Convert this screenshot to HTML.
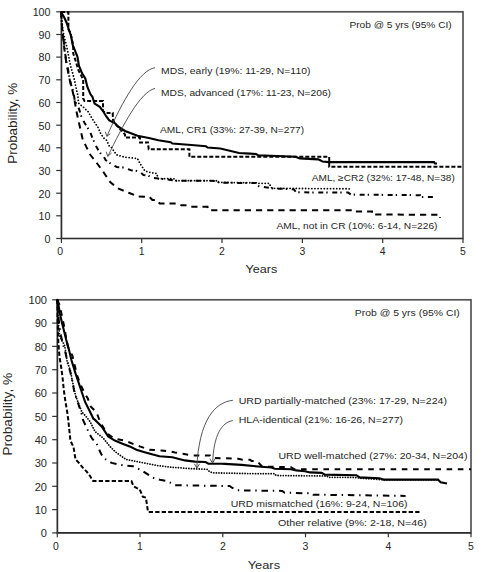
<!DOCTYPE html>
<html><head><meta charset="utf-8"><title>Survival curves</title>
<style>
html,body{margin:0;padding:0;background:#fff;}
body{width:483px;height:572px;overflow:hidden;}
svg{display:block;}
text{font-family:"Liberation Sans", sans-serif;fill:#262626;}
.frame{fill:none;stroke:#555;stroke-width:1.7;}
.axis{stroke:#2e2e2e;}
.tick{stroke:#333;stroke-width:1.2;}
polyline{fill:none;stroke:#000;stroke-linejoin:miter;}
.sl{stroke-width:2.1;}
.ds{stroke-width:2;stroke-dasharray:4 2;}
.dl{stroke-width:2;stroke-dasharray:6.2 5;}
.dl2{stroke-width:2;stroke-dasharray:5.6 5.6;}
.ds2{stroke-width:2;stroke-dasharray:4.3 2.2;}
.dd{stroke-width:2;stroke-dasharray:5 3 1.4 4.6;}
.dd2{stroke-width:2;stroke-dasharray:6.5 4.8 1.4 4.8;}
.dt{stroke-width:1.8;stroke-dasharray:0.01 3.1;stroke-linecap:round;}
.dt2{stroke-width:1.8;stroke-dasharray:0.01 2.6;stroke-linecap:round;}
.arr{fill:none;stroke:#444;stroke-width:0.9;}
</style></head>
<body>
<svg width="483" height="572" viewBox="0 0 483 572">
<rect width="483" height="572" fill="#fff"/>
<rect x="61.4" y="11.8" width="401.6" height="226.7" class="frame"/>
<line x1="61.5" y1="11.8" x2="61.5" y2="239.0" class="axis" stroke-width="1.2"/>
<line x1="60.9" y1="238.5" x2="463.0" y2="238.5" class="axis" stroke-width="1.1"/>
<line x1="56.2" y1="238.5" x2="61.5" y2="238.5" class="tick"/>
<text x="50.5" y="242.8" font-size="10" text-anchor="end" textLength="5.95" lengthAdjust="spacingAndGlyphs">0</text>
<line x1="56.2" y1="215.8" x2="61.5" y2="215.8" class="tick"/>
<text x="50.5" y="220.1" font-size="10" text-anchor="end" textLength="11.9" lengthAdjust="spacingAndGlyphs">10</text>
<line x1="56.2" y1="193.2" x2="61.5" y2="193.2" class="tick"/>
<text x="50.5" y="197.5" font-size="10" text-anchor="end" textLength="11.9" lengthAdjust="spacingAndGlyphs">20</text>
<line x1="56.2" y1="170.5" x2="61.5" y2="170.5" class="tick"/>
<text x="50.5" y="174.8" font-size="10" text-anchor="end" textLength="11.9" lengthAdjust="spacingAndGlyphs">30</text>
<line x1="56.2" y1="147.8" x2="61.5" y2="147.8" class="tick"/>
<text x="50.5" y="152.1" font-size="10" text-anchor="end" textLength="11.9" lengthAdjust="spacingAndGlyphs">40</text>
<line x1="56.2" y1="125.2" x2="61.5" y2="125.2" class="tick"/>
<text x="50.5" y="129.5" font-size="10" text-anchor="end" textLength="11.9" lengthAdjust="spacingAndGlyphs">50</text>
<line x1="56.2" y1="102.5" x2="61.5" y2="102.5" class="tick"/>
<text x="50.5" y="106.8" font-size="10" text-anchor="end" textLength="11.9" lengthAdjust="spacingAndGlyphs">60</text>
<line x1="56.2" y1="79.8" x2="61.5" y2="79.8" class="tick"/>
<text x="50.5" y="84.1" font-size="10" text-anchor="end" textLength="11.9" lengthAdjust="spacingAndGlyphs">70</text>
<line x1="56.2" y1="57.1" x2="61.5" y2="57.1" class="tick"/>
<text x="50.5" y="61.4" font-size="10" text-anchor="end" textLength="11.9" lengthAdjust="spacingAndGlyphs">80</text>
<line x1="56.2" y1="34.5" x2="61.5" y2="34.5" class="tick"/>
<text x="50.5" y="38.8" font-size="10" text-anchor="end" textLength="11.9" lengthAdjust="spacingAndGlyphs">90</text>
<line x1="56.2" y1="11.8" x2="61.5" y2="11.8" class="tick"/>
<text x="50.5" y="16.1" font-size="10" text-anchor="end" textLength="17.85" lengthAdjust="spacingAndGlyphs">100</text>
<line x1="61.4" y1="238.5" x2="61.4" y2="242.9" class="tick"/>
<text x="60.2" y="254.9" font-size="10" text-anchor="middle" textLength="5.8" lengthAdjust="spacingAndGlyphs">0</text>
<line x1="141.7" y1="238.5" x2="141.7" y2="242.9" class="tick"/>
<text x="141.7" y="254.9" font-size="10" text-anchor="middle" textLength="5.8" lengthAdjust="spacingAndGlyphs">1</text>
<line x1="222.0" y1="238.5" x2="222.0" y2="242.9" class="tick"/>
<text x="222.0" y="254.9" font-size="10" text-anchor="middle" textLength="5.8" lengthAdjust="spacingAndGlyphs">2</text>
<line x1="302.4" y1="238.5" x2="302.4" y2="242.9" class="tick"/>
<text x="302.4" y="254.9" font-size="10" text-anchor="middle" textLength="5.8" lengthAdjust="spacingAndGlyphs">3</text>
<line x1="382.7" y1="238.5" x2="382.7" y2="242.9" class="tick"/>
<text x="382.7" y="254.9" font-size="10" text-anchor="middle" textLength="5.8" lengthAdjust="spacingAndGlyphs">4</text>
<line x1="463.0" y1="238.5" x2="463.0" y2="242.9" class="tick"/>
<text x="463.0" y="254.9" font-size="10" text-anchor="middle" textLength="5.8" lengthAdjust="spacingAndGlyphs">5</text>
<text x="261.5" y="272.8" font-size="11.6" text-anchor="middle" textLength="31.8" lengthAdjust="spacingAndGlyphs">Years</text>
<text transform="translate(16.8,123.3) rotate(-90)" font-size="12" text-anchor="middle" textLength="80.8" lengthAdjust="spacingAndGlyphs">Probability, %</text>
<text x="349.4" y="27.6" font-size="9" text-anchor="start" textLength="102.3" lengthAdjust="spacingAndGlyphs">Prob @ 5 yrs (95% CI)</text>
<text x="161" y="73.8" font-size="9" text-anchor="start" textLength="149.4" lengthAdjust="spacingAndGlyphs">MDS, early (19%: 11-29, N=110)</text>
<text x="161" y="96" font-size="9" text-anchor="start" textLength="170" lengthAdjust="spacingAndGlyphs">MDS, advanced (17%: 11-23, N=206)</text>
<text x="160.1" y="132.6" font-size="9" text-anchor="start" textLength="144" lengthAdjust="spacingAndGlyphs">AML, CR1 (33%: 27-39, N=277)</text>
<text x="311.8" y="180.8" font-size="9" text-anchor="start" textLength="143" lengthAdjust="spacingAndGlyphs">AML, ≥CR2 (32%: 17-48, N=38)</text>
<text x="276.5" y="229.3" font-size="9" text-anchor="start" textLength="161" lengthAdjust="spacingAndGlyphs">AML, not in CR (10%: 6-14, N=226)</text>
<polyline class="dl" points="61.0,12.0 61.5,20.0 62.3,30.0 63.3,40.0 64.5,50.0 66.2,62.0 68.5,74.0 70.4,83.0 72.6,91.0 74.7,101.0 76.2,110.0 78.3,120.0 80.4,129.0 82.5,138.7 86.2,146.6 90.3,154.8 95.3,161.0 102.7,171.0 110.2,182.1 117.6,188.3 130.0,193.3 138.0,196.5 149.3,196.8 152.4,199.9 156.6,199.9 159.7,203.4 177.3,203.6 181.4,205.3 185.5,205.3 189.7,206.7 207.5,206.8 208.5,210.2 354.6,210.2 355.0,211.4 372.0,211.4 372.0,214.5 437.0,214.8 440.0,214.8 440.0,218.0"/>
<polyline class="dd" points="61.0,12.0 61.5,20.0 62.3,30.0 63.3,38.0 64.3,45.0 65.3,54.4 66.4,61.8 68.0,69.1 69.5,77.5 71.1,84.8 73.2,91.1 74.8,100.6 76.5,104.0 78.9,108.5 81.5,117.0 84.6,123.0 87.8,128.0 90.9,134.0 93.0,139.5 96.3,146.5 98.8,150.8 101.0,154.0 103.8,156.5 105.6,160.0 109.9,163.0 112.4,164.9 116.8,167.0 122.4,167.3 126.7,168.7 131.0,170.3 136.0,170.8 140.4,172.4 143.5,175.0 148.4,175.8 152.9,178.0 158.3,178.6 164.8,179.1 175.7,180.7 216.2,180.9 220.0,182.8 255.9,183.0 259.0,186.2 273.0,188.5 290.0,189.0 294.0,189.5 296.0,192.3 348.0,192.6 351.0,194.6 420.0,195.2 420.0,197.0 426.0,197.0 433.0,197.0"/>
<polyline class="dt" points="61.0,12.0 61.8,20.0 62.8,30.0 64.5,38.0 66.4,45.0 68.5,55.5 70.6,66.0 72.7,73.3 74.8,81.7 76.3,89.0 77.9,95.3 78.3,100.5 78.9,103.6 84.1,107.8 88.3,112.0 91.4,117.3 94.6,122.5 97.7,126.7 100.9,134.0 104.0,138.2 106.4,140.0 109.3,146.0 111.4,147.3 116.4,154.8 125.0,157.3 137.5,158.5 140.0,163.5 145.0,171.0 151.7,172.9 156.6,173.4 158.3,178.6 175.0,178.8 176.0,180.7 216.2,180.7 218.0,182.4 255.9,182.8 256.5,183.3 269.5,183.3 271.0,187.5 273.0,188.3 350.4,188.8"/>
<polyline class="ds" points="61.0,12.0 68.4,12.2 68.4,29.5 70.5,33.0 72.0,40.0 73.2,45.0 73.2,53.4 76.0,62.0 78.4,70.2 81.1,75.4 83.2,79.6 83.2,98.5 84.5,101.0 103.0,101.0 103.0,111.0 106.1,113.0 112.7,113.0 113.0,120.0 115.0,123.7 122.0,131.0 125.0,134.5 125.0,137.4 140.0,137.4 140.0,142.4 148.0,142.4 148.7,149.3 189.4,149.3 189.4,156.8 329.2,156.8 329.2,166.7 463.0,166.7"/>
<polyline class="sl" points="61.0,12.0 62.0,13.5 64.5,18.0 66.7,23.0 69.0,30.0 71.1,36.0 72.7,45.0 75.3,51.3 77.4,56.5 79.0,66.0 82.1,73.3 85.3,78.5 87.4,86.9 90.5,94.3 92.5,97.0 94.6,103.6 99.8,106.8 103.0,111.0 106.1,116.2 109.3,120.4 115.1,123.4 117.6,126.2 125.0,131.0 137.5,135.8 150.0,138.2 158.3,140.2 170.7,142.2 172.5,143.5 191.4,145.0 205.9,146.2 207.5,147.6 220.4,148.5 228.7,150.5 239.0,153.0 250.0,153.6 256.0,154.0 258.3,155.3 295.5,156.8 299.7,158.4 318.3,159.4 322.5,161.5 328.7,162.1 434.0,162.1 435.0,163.5 437.0,163.5"/>
<path class="arr" d="M155,67.7 C140,70 123,100 106.9,136.3"/>
<path class="arr" d="M105.3,131.8 L106.9,136.3 L110.4,133.6"/>
<path class="arr" d="M155,88.4 C140,92 123,125 107.8,156.4"/>
<path class="arr" d="M106.2,151.8 L107.8,156.4 L111.6,152.9"/>
<rect x="57.3" y="299.8" width="413.7" height="233.09999999999997" class="frame"/>
<line x1="57.5" y1="299.8" x2="57.5" y2="533.4" class="axis" stroke-width="1.2"/>
<line x1="56.9" y1="532.8" x2="471.0" y2="532.8" class="axis" stroke-width="1.4"/>
<line x1="52.2" y1="532.9" x2="57.5" y2="532.9" class="tick"/>
<text x="47.0" y="537.2" font-size="10" text-anchor="end" textLength="6.15" lengthAdjust="spacingAndGlyphs">0</text>
<line x1="52.2" y1="509.6" x2="57.5" y2="509.6" class="tick"/>
<text x="47.0" y="513.9" font-size="10" text-anchor="end" textLength="12.3" lengthAdjust="spacingAndGlyphs">10</text>
<line x1="52.2" y1="486.3" x2="57.5" y2="486.3" class="tick"/>
<text x="47.0" y="490.6" font-size="10" text-anchor="end" textLength="12.3" lengthAdjust="spacingAndGlyphs">20</text>
<line x1="52.2" y1="463.0" x2="57.5" y2="463.0" class="tick"/>
<text x="47.0" y="467.3" font-size="10" text-anchor="end" textLength="12.3" lengthAdjust="spacingAndGlyphs">30</text>
<line x1="52.2" y1="439.7" x2="57.5" y2="439.7" class="tick"/>
<text x="47.0" y="444.0" font-size="10" text-anchor="end" textLength="12.3" lengthAdjust="spacingAndGlyphs">40</text>
<line x1="52.2" y1="416.4" x2="57.5" y2="416.4" class="tick"/>
<text x="47.0" y="420.7" font-size="10" text-anchor="end" textLength="12.3" lengthAdjust="spacingAndGlyphs">50</text>
<line x1="52.2" y1="393.0" x2="57.5" y2="393.0" class="tick"/>
<text x="47.0" y="397.3" font-size="10" text-anchor="end" textLength="12.3" lengthAdjust="spacingAndGlyphs">60</text>
<line x1="52.2" y1="369.7" x2="57.5" y2="369.7" class="tick"/>
<text x="47.0" y="374.0" font-size="10" text-anchor="end" textLength="12.3" lengthAdjust="spacingAndGlyphs">70</text>
<line x1="52.2" y1="346.4" x2="57.5" y2="346.4" class="tick"/>
<text x="47.0" y="350.7" font-size="10" text-anchor="end" textLength="12.3" lengthAdjust="spacingAndGlyphs">80</text>
<line x1="52.2" y1="323.1" x2="57.5" y2="323.1" class="tick"/>
<text x="47.0" y="327.4" font-size="10" text-anchor="end" textLength="12.3" lengthAdjust="spacingAndGlyphs">90</text>
<line x1="52.2" y1="299.8" x2="57.5" y2="299.8" class="tick"/>
<text x="47.0" y="304.1" font-size="10" text-anchor="end" textLength="18.450000000000003" lengthAdjust="spacingAndGlyphs">100</text>
<line x1="57.3" y1="532.8" x2="57.3" y2="537.3" class="tick"/>
<text x="56.0" y="550.0" font-size="10" text-anchor="middle" textLength="5.8" lengthAdjust="spacingAndGlyphs">0</text>
<line x1="140.0" y1="532.8" x2="140.0" y2="537.3" class="tick"/>
<text x="140.0" y="550.0" font-size="10" text-anchor="middle" textLength="5.8" lengthAdjust="spacingAndGlyphs">1</text>
<line x1="222.8" y1="532.8" x2="222.8" y2="537.3" class="tick"/>
<text x="222.8" y="550.0" font-size="10" text-anchor="middle" textLength="5.8" lengthAdjust="spacingAndGlyphs">2</text>
<line x1="305.5" y1="532.8" x2="305.5" y2="537.3" class="tick"/>
<text x="305.5" y="550.0" font-size="10" text-anchor="middle" textLength="5.8" lengthAdjust="spacingAndGlyphs">3</text>
<line x1="388.3" y1="532.8" x2="388.3" y2="537.3" class="tick"/>
<text x="388.3" y="550.0" font-size="10" text-anchor="middle" textLength="5.8" lengthAdjust="spacingAndGlyphs">4</text>
<line x1="471.0" y1="532.8" x2="471.0" y2="537.3" class="tick"/>
<text x="471.0" y="550.0" font-size="10" text-anchor="middle" textLength="5.8" lengthAdjust="spacingAndGlyphs">5</text>
<text x="263.9" y="568.7" font-size="11.8" text-anchor="middle" textLength="32.3" lengthAdjust="spacingAndGlyphs">Years</text>
<text transform="translate(12.2,414.2) rotate(-90)" font-size="12" text-anchor="middle" textLength="83" lengthAdjust="spacingAndGlyphs">Probability, %</text>
<text x="354.8" y="316.4" font-size="9" text-anchor="start" textLength="105" lengthAdjust="spacingAndGlyphs">Prob @ 5 yrs (95% CI)</text>
<text x="238.7" y="403.5" font-size="9" text-anchor="start" textLength="208.3" lengthAdjust="spacingAndGlyphs">URD partially-matched (23%: 17-29, N=224)</text>
<text x="238.7" y="423.4" font-size="9" text-anchor="start" textLength="164.4" lengthAdjust="spacingAndGlyphs">HLA-identical (21%: 16-26, N=277)</text>
<text x="278.4" y="459" font-size="9" text-anchor="start" textLength="189.1" lengthAdjust="spacingAndGlyphs">URD well-matched (27%: 20-34, N=204)</text>
<text x="230.7" y="507.2" font-size="9" text-anchor="start" textLength="176.8" lengthAdjust="spacingAndGlyphs">URD mismatched (16%: 9-24, N=106)</text>
<text x="277.9" y="526.2" font-size="9" text-anchor="start" textLength="148.9" lengthAdjust="spacingAndGlyphs">Other relative (9%: 2-18, N=46)</text>
<polyline class="ds2" points="57.3,299.7 57.6,320.0 58.3,342.0 59.5,357.0 61.3,368.0 62.6,378.0 63.8,390.0 65.5,402.0 67.2,412.0 68.3,420.0 70.4,440.7 73.5,446.9 75.5,459.3 79.0,463.0 82.8,467.6 86.9,471.8 90.0,476.0 93.1,481.1 131.4,481.1 133.5,486.3 139.7,489.4 142.8,496.6 145.9,497.6 148.0,511.9 420.0,511.9"/>
<polyline class="dd2" points="57.3,299.7 58.0,312.0 59.3,325.0 61.0,336.0 63.5,346.0 65.5,353.0 67.5,362.0 70.0,371.0 71.7,378.0 74.4,392.2 78.0,403.0 81.8,414.5 83.0,420.0 89.3,433.5 92.0,438.5 96.6,443.5 99.9,451.3 103.2,457.9 111.5,462.9 123.1,465.4 133.0,466.2 143.0,471.2 152.9,477.8 160.0,479.8 167.5,481.0 174.9,485.2 229.6,486.0 232.0,487.7 237.0,490.3 282.2,490.9 284.7,492.7 312.0,493.4 313.3,494.7 360.0,495.2 405.6,495.9"/>
<polyline class="dt2" points="57.3,299.7 57.8,312.0 58.6,325.0 59.5,335.0 62.0,341.0 64.4,344.7 66.2,354.5 67.2,362.0 70.4,370.5 72.0,379.0 74.1,389.0 75.6,395.6 78.8,404.0 81.9,412.0 86.1,416.6 90.0,421.5 95.0,431.5 103.2,438.1 109.9,446.4 114.8,451.3 121.5,456.3 126.4,459.6 139.7,462.1 156.2,465.4 170.0,467.1 189.9,468.6 207.2,469.3 209.7,471.8 213.0,472.8 250.0,473.6 274.7,473.7 276.0,475.5 327.0,476.0 328.2,477.3 354.7,477.4 360.0,478.2 383.6,479.8 438.0,479.8"/>
<polyline class="dl2" points="57.3,299.7 58.2,302.0 59.3,304.4 61.4,313.3 63.5,323.3 64.8,330.0 66.0,337.3 68.0,347.0 72.4,355.7 74.6,365.0 77.2,375.5 80.3,384.1 84.0,392.0 87.7,398.3 90.8,406.6 96.6,412.4 99.9,421.5 106.6,433.1 114.8,438.9 124.8,440.6 133.0,443.9 139.7,446.4 149.6,449.7 161.2,450.5 170.0,451.3 175.0,452.4 182.0,453.7 192.0,455.4 210.0,455.4 212.0,457.9 225.0,458.3 238.0,458.8 241.6,459.6 250.0,459.8 251.5,460.9 257.0,461.0 262.0,466.5 291.0,467.2 294.5,469.3 471.0,469.3"/>
<polyline class="sl" points="57.3,299.7 58.5,305.0 60.0,314.0 61.8,322.0 63.8,330.0 66.2,339.8 68.9,349.6 71.4,360.0 75.6,373.6 78.8,383.1 81.9,392.5 85.1,401.9 89.3,410.3 93.4,418.7 95.0,419.9 101.6,426.5 108.2,436.4 114.8,440.6 123.1,443.9 129.7,446.4 136.4,449.7 144.6,452.2 152.9,454.6 159.5,456.3 172.4,457.3 184.8,460.4 195.0,461.6 205.6,462.0 208.4,463.6 222.0,463.7 225.0,463.9 241.6,464.9 258.1,466.5 271.4,467.5 274.7,468.7 291.2,469.2 296.2,470.4 305.0,471.2 310.0,472.4 321.6,472.9 324.9,474.6 356.4,475.2 359.7,477.4 379.5,478.2 383.6,479.6 438.0,479.6 440.6,482.2 447.0,483.5"/>
<path class="arr" d="M232.9,400.3 C215,402 199,420 196.8,467.8"/>
<path class="arr" d="M194.4,463.8 L196.9,468 L199.6,463.8"/>
<path class="arr" d="M232.9,420.6 C222,422 213.5,435 212.7,462.8"/>
<path class="arr" d="M209.8,458.6 L212.5,463.2 L215.2,458.6"/>
</svg>
</body></html>
